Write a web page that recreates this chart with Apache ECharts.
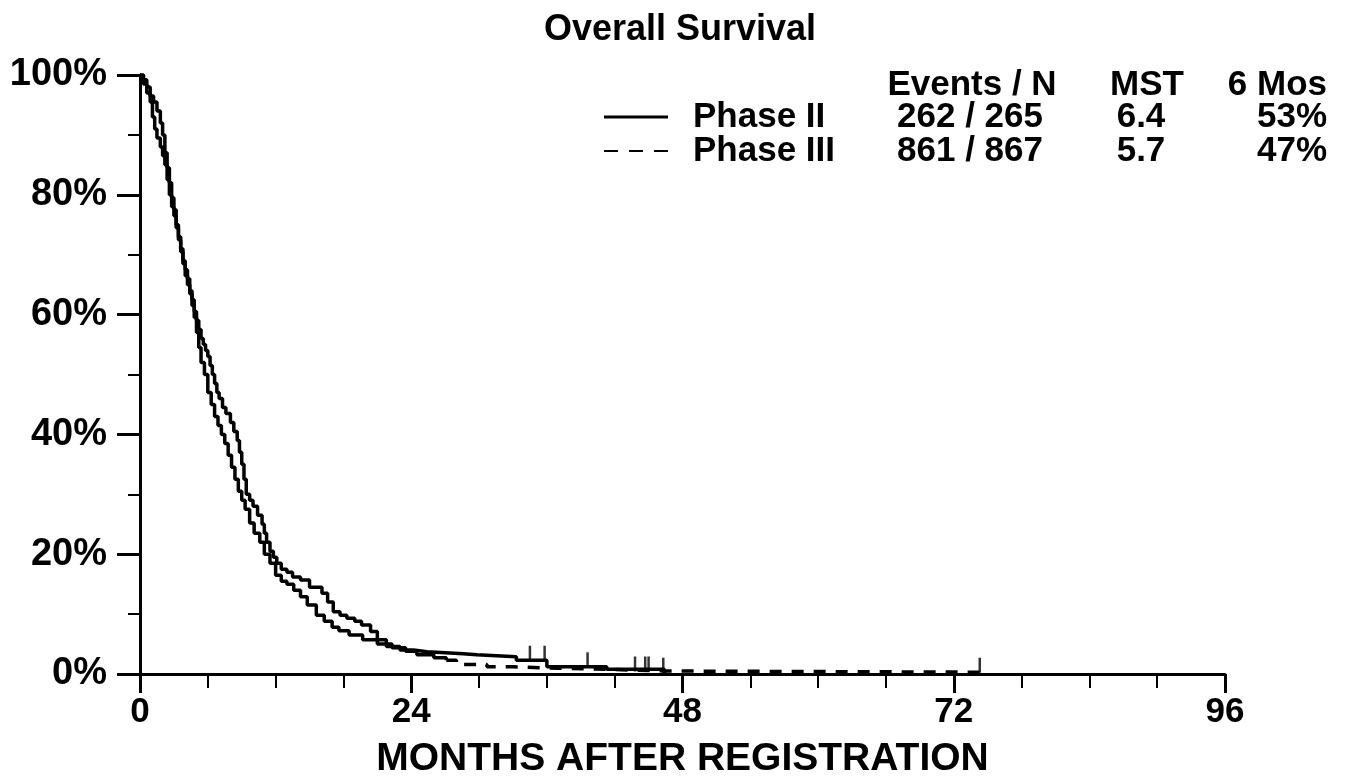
<!DOCTYPE html>
<html>
<head>
<meta charset="utf-8">
<title>Overall Survival</title>
<script src="https://cdn.jsdelivr.net/npm/echarts@6.0.0/dist/echarts.min.js"></script>
<style>
    html, body { margin: 0; padding: 0; background: #fff; }
    #main { width: 1360px; height: 782px; }
</style>
</head>
<body>
<div id="main"></div>
<script>
// Phase II (solid) - months / survival %
var phase2Months = [0, 0.3, 0.6, 0.9, 1.2, 1.5, 1.8, 2.0, 2.2, 2.4, 2.6, 2.8, 3.0, 3.2, 3.4, 3.6, 3.8, 4.0, 4.2, 4.4,
    4.6, 4.8, 5.0, 5.2, 5.4, 5.6, 5.8, 6.0, 6.2, 6.4, 6.6, 6.8, 7.0, 7.3, 7.6, 8.0, 8.3, 8.6, 8.8, 9.0,
    9.2, 9.4, 9.7, 10.0, 10.4, 10.8, 11.0, 11.2, 11.5, 11.8, 12.1, 12.5, 13.0, 13.5, 14.2, 15.0, 16.1, 16.6, 17.1, 17.7,
    18.3, 19.0, 19.6, 20.4, 21.0, 21.8, 23.0, 24.2, 25.4, 28.6, 29.8, 33.3, 36.0, 41.3, 46.4];
var phase2Surv = [100, 99.2, 98, 96.5, 95.5, 94, 92, 90, 87, 84.5, 82, 79.5, 77.5, 75, 73, 71, 69, 67.5, 66, 64,
    62.5, 60.5, 59, 57.5, 56, 55, 54, 53, 51.5, 50, 48.5, 47, 46, 44.5, 43.5, 42, 40.5, 39, 37, 35,
    32.5, 30, 29, 28, 26.5, 25, 23.5, 22, 20.5, 19.5, 18.5, 17.5, 17, 16.2, 15.7, 14.5, 13.5, 12, 10.4, 9.8,
    9.3, 8.8, 8.2, 7.1, 5.7, 4.6, 4.0, 3.7, 3.4, 3.2, 2.9, 2.3, 1.2, 0.8, 0];

// Phase III (dashed) - months / survival %
var phase3Months = [0, 0.3, 0.6, 0.9, 1.1, 1.3, 1.5, 1.8, 2.0, 2.2, 2.4, 2.6, 2.8, 3.0, 3.2, 3.4, 3.6, 3.8, 4.0, 4.2,
    4.4, 4.6, 4.8, 5.0, 5.2, 5.4, 5.7, 6.0, 6.3, 6.6, 6.9, 7.2, 7.5, 7.8, 8.1, 8.4, 8.7, 9.0, 9.3, 9.7,
    10.1, 10.6, 11.0, 11.5, 12.0, 12.5, 13.0, 13.6, 14.2, 14.8, 15.6, 16.3, 17.0, 17.6, 18.5, 19.7, 21.0, 22.3, 23.5, 24.5,
    26.0, 27.1, 28.0, 30.7, 33.0, 37.0, 41.3, 43.5, 46.5, 74.3];
var phase3Surv = [100, 98.5, 97, 95.5, 93, 91, 89.5, 88, 86.5, 85, 82.5, 80, 78, 76.5, 74.5, 72.5, 70.5, 68.5, 66.5, 65,
    63.5, 61.5, 59.5, 57, 54.5, 52, 50, 47, 45, 43, 41.5, 40, 38.5, 36.5, 34.5, 32.5, 30.5, 29, 27.5, 25.2,
    23.5, 22, 20, 18.5, 16.5, 15.5, 15, 14, 12.9, 11.5, 9.8, 8.8, 7.8, 7.2, 6.5, 5.7, 5.0, 4.4, 3.8, 3.2,
    2.7, 2.3, 1.6, 1.2, 0.95, 0.8, 0.65, 0.5, 0.3, 0.3];

// censored observations
var phase2CensorMonths = [34.5, 35.8, 39.6];
var phase2CensorSurv = [2.3, 2.3, 1.2];
var phase3CensorMonths = [43.8, 44.7, 45.0, 46.3, 74.3];
var phase3CensorSurv = [0.5, 0.5, 0.5, 0.3, 0.3];

// legend table
var tableHeader = ['Events / N', 'MST', '6 Mos'];
var groupNames = ['Phase II', 'Phase III'];
var groupEventsN = ['262 / 265', '861 / 867'];
var groupMST = ['6.4', '5.7'];
var groupSixMos = ['53%', '47%'];

var xTicks = [0, 24, 48, 72, 96];
var yTicks = [0, 20, 40, 60, 80, 100];

function zip(xs, ys) {
    var out = [];
    for (var i = 0; i < xs.length; i++) out.push([xs[i], ys[i]]);
    return out;
}

var phase2Data = zip(phase2Months, phase2Surv);
var phase3Data = zip(phase3Months, phase3Surv);
// the dense early part of phase III reads as a solid line, dashes show from ~27 months
var splitAt = phase3Months.indexOf(27.1);
var phase3Early = phase3Data.slice(0, splitAt + 1);
var phase3Late = phase3Data.slice(splitAt);

var FONT = "'Liberation Sans', Arial, sans-serif";
var black = '#000';

var chart = echarts.init(document.getElementById('main'));

var cellText = function (x, y, text, align) {
    return {
        type: 'text',
        x: x,
        y: y,
        style: {
            text: text,
            fill: black,
            font: 'bold 35px ' + FONT,
            textAlign: align,
            textVerticalAlign: 'middle'
        }
    };
};

var graphics = [
    cellText(972, 85, tableHeader[0], 'center'),
    cellText(1147, 85, tableHeader[1], 'center'),
    cellText(1327, 85, tableHeader[2], 'right')
];
var rowY = [117, 151];
for (var r = 0; r < groupNames.length; r++) {
    graphics.push({
        type: 'line',
        shape: { x1: 604, y1: rowY[r], x2: 668, y2: rowY[r] },
        style: { stroke: black, lineWidth: r == 0 ? 3 : 2, lineDash: r == 0 ? null : [14, 11] }
    });
    graphics.push(cellText(693, rowY[r], groupNames[r], 'left'));
    graphics.push(cellText(970, rowY[r], groupEventsN[r], 'center'));
    graphics.push(cellText(1141, rowY[r], groupMST[r], 'center'));
    graphics.push(cellText(1327, rowY[r], groupSixMos[r], 'right'));
}

var option = {
    animation: false,
    backgroundColor: '#fff',
    title: {
        text: 'Overall Survival',
        left: 'center',
        top: 7,
        textStyle: {
            fontFamily: FONT,
            fontWeight: 'bold',
            fontSize: 36,
            color: black
        }
    },
    grid: {
        left: 140,
        right: 135,
        top: 75,
        bottom: 108,
        outerBoundsMode: 'none'
    },
    xAxis: {
        type: 'value',
        min: xTicks[0],
        max: xTicks[xTicks.length - 1],
        interval: 24,
        name: 'MONTHS AFTER REGISTRATION',
        nameLocation: 'middle',
        nameGap: 66,
        nameTextStyle: {
            fontFamily: FONT,
            fontWeight: 'bold',
            fontSize: 39,
            color: black
        },
        axisLine: { lineStyle: { color: black, width: 3 } },
        axisTick: { length: 19, lineStyle: { color: black, width: 3 } },
        minorTick: { show: true, splitNumber: 4, length: 14, lineStyle: { color: black, width: 2 } },
        splitLine: { show: false },
        axisLabel: {
            margin: 21,
            fontFamily: FONT,
            fontWeight: 'bold',
            fontSize: 35,
            color: black
        }
    },
    yAxis: {
        type: 'value',
        min: yTicks[0],
        max: yTicks[yTicks.length - 1],
        interval: 20,
        axisLine: { show: true, lineStyle: { color: black, width: 3 } },
        axisTick: { show: true, length: 23, lineStyle: { color: black, width: 3 } },
        minorTick: { show: true, splitNumber: 2, length: 12, lineStyle: { color: black, width: 2 } },
        splitLine: { show: false },
        axisLabel: {
            margin: 33,
            formatter: '{value}%',
            fontFamily: FONT,
            fontWeight: 'bold',
            fontSize: 38,
            color: black
        }
    },
    series: [{
        name: groupNames[0],
        type: 'line',
        step: 'end',
        symbol: 'none',
        lineStyle: { color: black, width: 3.5 },
        data: phase2Data
    }, {
        name: groupNames[1],
        type: 'line',
        step: 'end',
        symbol: 'none',
        lineStyle: { color: black, width: 3.5 },
        data: phase3Early
    }, {
        name: groupNames[1] + ' late',
        type: 'line',
        step: 'end',
        symbol: 'none',
        lineStyle: { color: black, width: 3.5, type: [12, 10] },
        data: phase3Late
    }, {
        name: 'censored',
        type: 'scatter',
        symbol: 'rect',
        symbolSize: [2.5, 15],
        symbolOffset: [0, -7],
        itemStyle: { color: black },
        data: zip(phase2CensorMonths, phase2CensorSurv).concat(zip(phase3CensorMonths, phase3CensorSurv))
    }],
    graphic: graphics
};
chart.setOption(option);
</script>
</body>
</html>
